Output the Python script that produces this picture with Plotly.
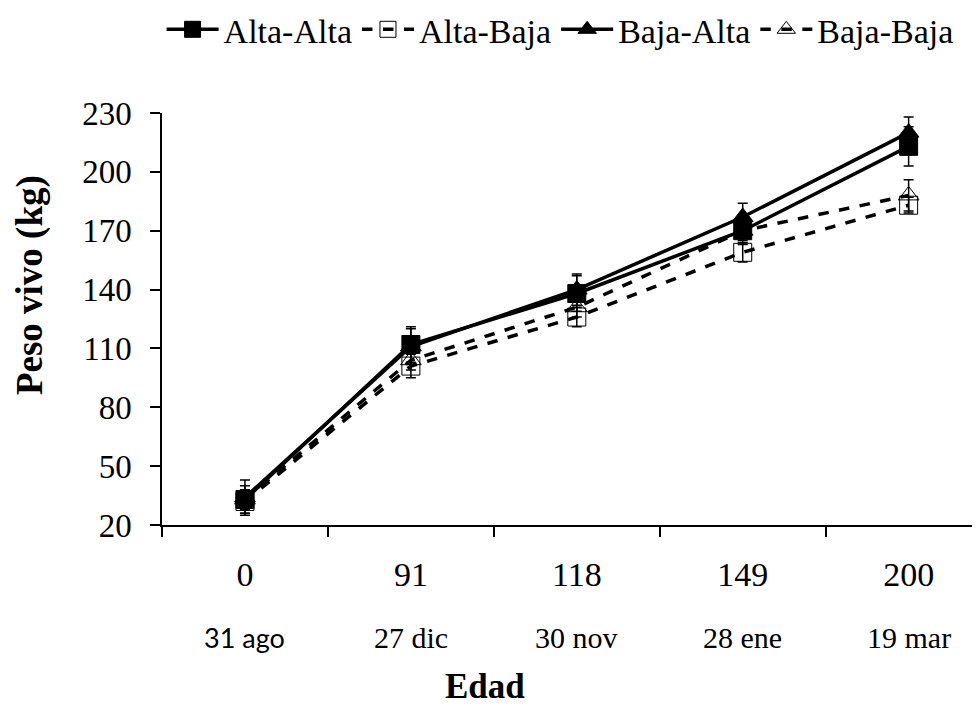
import plotly.graph_objects as go

ages = ["0", "91", "118", "149", "200"]
dates = ["31 ago", "27 dic", "30 nov", "28 ene", "19 mar"]

alta_alta = [33, 112, 138, 170, 213]
alta_alta_err = [7, 9, 9, 7, 10]
alta_baja = [32, 101, 126, 159, 183]
alta_baja_err = [6, 6, 5, 5, 4]
baja_alta = [34, 111, 140, 177, 220]
baja_alta_err = [9, 9, 8, 7, 8]
baja_baja = [33, 104, 131, 170, 188]
baja_baja_err = [5, 5, 5, 5, 8]

serif = "Liberation Serif, Times New Roman, serif"

fig = go.Figure()

def add(name, y, err, dash, symbol):
    fig.add_trace(go.Scatter(
        x=ages, y=y, name=name, mode="lines+markers",
        line=dict(color="black", width=3.5, dash=dash),
        marker=dict(symbol=symbol, size=18, color="black",
                    line=dict(color="black", width=1)),
        error_y=dict(type="data", array=err, visible=True, color="black",
                     thickness=1.5, width=5),
    ))

add("Alta-Alta", alta_alta, alta_alta_err, "solid", "square")
add("Alta-Baja", alta_baja, alta_baja_err, "dash", "square-open")
add("Baja-Alta", baja_alta, baja_alta_err, "solid", "triangle-up")
add("Baja-Baja", baja_baja, baja_baja_err, "dash", "triangle-up-open")

annotations = []
for i, d in enumerate(dates):
    annotations.append(dict(x=i, y=-0.272, xref="x", yref="paper", text=d,
                            showarrow=False, yanchor="middle",
                            font=dict(family=serif if i > 0 else "Lato, sans-serif",
                                      size=30 if i > 0 else 27, color="black")))
annotations.append(dict(x=0.397, y=-0.444, xref="paper", yref="paper",
                        text="<b>Edad</b>", showarrow=False, yanchor="bottom",
                        font=dict(family=serif, size=35, color="black")))
annotations.append(dict(x=-0.162, y=0.583, xref="paper", yref="paper",
                        text="<b>Peso vivo (kg)</b>", showarrow=False,
                        textangle=-90, xanchor="center", yanchor="middle",
                        font=dict(family=serif, size=37, color="black")))

# page body has an 8px margin; compensate so the plot area sits where the reference has it
fig.update_layout(
    width=972, height=700,
    margin=dict(l=154, r=5, t=105, b=183, autoexpand=False),
    paper_bgcolor="white", plot_bgcolor="white",
    showlegend=True,
    legend=dict(orientation="h", xref="container", yref="container",
                x=0.158, y=0.969, xanchor="left", yanchor="middle",
                font=dict(family=serif, size=34, color="black"),
                itemwidth=52, tracegroupgap=0),
    annotations=annotations,
    xaxis=dict(type="category", range=[-0.5, 4.4], showgrid=False,
               showline=True, linecolor="black", linewidth=1.5,
               ticks="outside", ticklen=10, tickcolor="black", tickwidth=1.5,
               tickson="boundaries", ticklabelstandoff=18,
               tickfont=dict(family=serif, size=34, color="black"), zeroline=False),
    yaxis=dict(range=[20, 230], tickvals=[20, 50, 80, 110, 140, 170, 200, 230],
               showgrid=False, showline=True, linecolor="black", linewidth=1.5,
               ticks="outside", ticklen=10, tickcolor="black", tickwidth=1.5,
               ticklabelstandoff=12,
               tickfont=dict(family=serif, size=33, color="black"), zeroline=False),
)

fig.write_html("out.html")
